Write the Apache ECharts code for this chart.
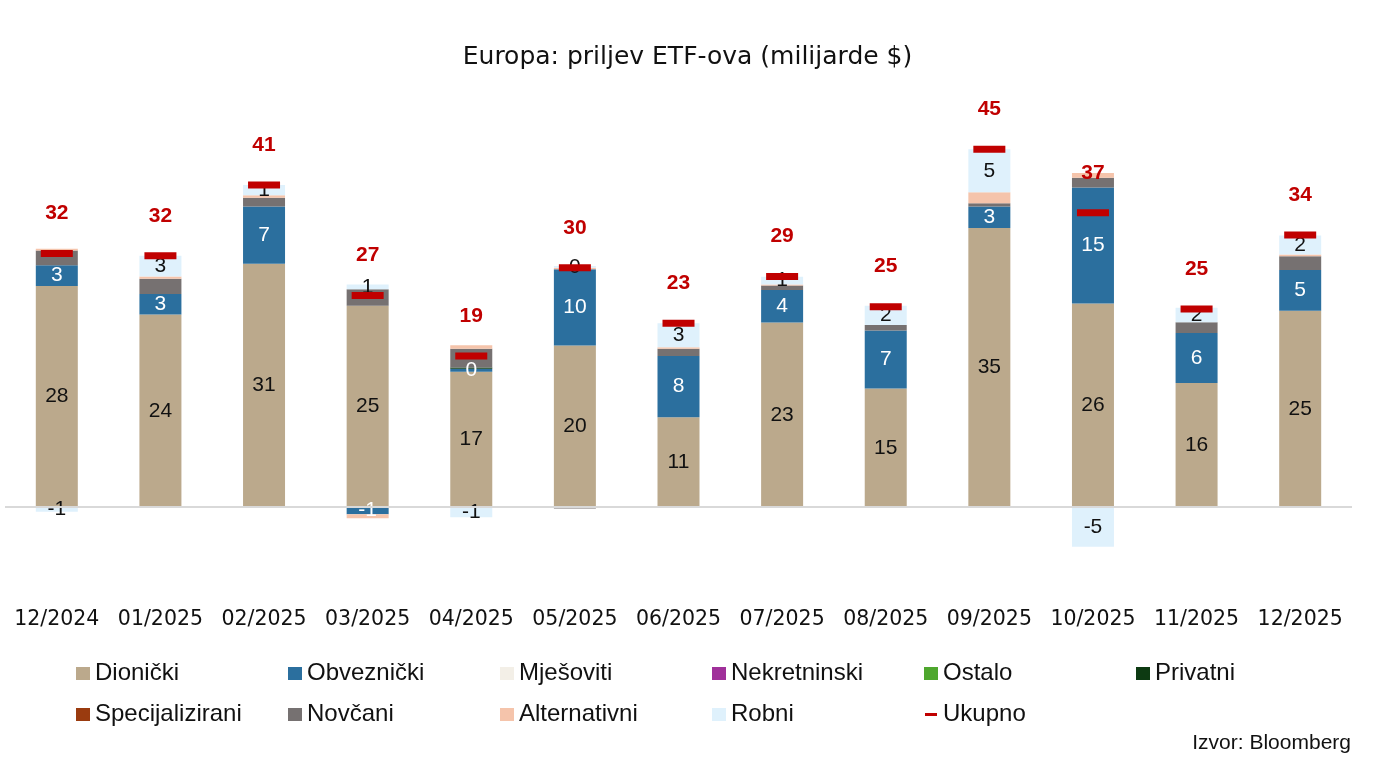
<!DOCTYPE html>
<html>
<head>
<meta charset="utf-8">
<script src="https://cdn.jsdelivr.net/npm/echarts@6/dist/echarts.min.js"></script>
<style>
html,body{margin:0;padding:0;background:#fff;}
#main{width:1375px;height:780px;}
</style>
</head>
<body>
<div id="main"></div>
<script>
const categories = ['12/2024','01/2025','02/2025','03/2025','04/2025','05/2025','06/2025','07/2025','08/2025','09/2025','10/2025','11/2025','12/2025'];
const dionicki       = [27.8, 24.2, 30.6, 25.3, 17.0, 20.3, 11.3, 23.2, 14.9, 35.1, 25.6, 15.6, 24.7];
const obveznicki     = [2.6, 2.6, 7.2, -0.9, 0.4, 9.6, 7.7, 4.1, 7.3, 2.7, 14.6, 6.3, 5.1];
const mjesoviti      = [0, 0, 0, 0, 0, 0, 0, 0, 0, 0, 0, 0, 0];
const nekretninski   = [0, 0, 0, 0, 0, 0, 0, 0, 0, 0, 0, 0, 0];
const ostalo         = [0, 0, 0, 0, 0, 0, 0, 0, 0, 0, 0, 0, 0];
const privatni       = [0, 0, 0, 0, 0.15, 0, 0, 0, 0, 0, 0, 0, 0];
const specijalizirani= [0, 0, 0, 0, 0, 0, 0, 0, 0, 0, 0, 0, 0];
const novcani        = [1.85, 1.9, 1.1, 2.1, 2.35, -0.2, 0.9, 0.55, 0.7, 0.4, 1.2, 1.35, 1.75];
const alternativni   = [0.25, 0.3, 0.3, -0.5, 0.45, 0.2, 0.2, 0.15, 0, 1.4, 0.6, -0.1, 0.2];
const robni          = [-0.6, 2.6, 1.3, 0.6, -1.3, 0.2, 3.0, 0.95, 2.4, 5.4, -5.0, 1.8, 2.4];
const ukupno         = [31.9, 31.6, 40.5, 26.6, 19.0, 30.1, 23.1, 29.0, 25.2, 45.0, 37.0, 24.9, 34.2];

const FONT = 'Liberation Sans';
const WIDE = 'DejaVu Sans';
const chart = echarts.init(document.getElementById('main'));

function roundLabel(p){ const v = Math.round(p.value); return (v === 0 ? '0' : String(v)); }

function barSeries(name, data, color, labelColor){
  const s = {
    name: name, type: 'bar', stack: 'total', data: data, barWidth: 42,
    itemStyle: { color: color },
    emphasis: { disabled: true },
    label: { show: false }
  };
  if (labelColor) {
    s.label = { show: true, position: 'inside', color: labelColor, fontFamily: FONT, fontSize: 21,
      formatter: roundLabel };
  }
  return s;
}

const series = [
  barSeries('Dionički', dionicki, '#BBA98C', '#111'),
  barSeries('Obveznički', obveznicki, '#2B6F9E', '#fff'),
  barSeries('Mješoviti', mjesoviti, '#F3EFE7'),
  barSeries('Nekretninski', nekretninski, '#A0309A'),
  barSeries('Ostalo', ostalo, '#4EA72E'),
  barSeries('Privatni', privatni, '#0D3A12'),
  barSeries('Specijalizirani', specijalizirani, '#9A3B0F'),
  barSeries('Novčani', novcani, '#767171'),
  barSeries('Alternativni', alternativni, '#F5C4AB'),
  barSeries('Robni', robni, '#DFF1FC', '#111'),
  {
    name: 'Ukupno', type: 'scatter', data: ukupno, symbol: 'rect', symbolSize: [32, 7],
    itemStyle: { color: '#C00000', opacity: 1 }, z: 10,
    emphasis: { disabled: true },
    label: { show: true, position: 'top', distance: 26, color: '#C00000', fontWeight: 'bold',
      fontFamily: FONT, fontSize: 21, formatter: roundLabel }
  }
];
series[0].markLine = {
  silent: true, symbol: 'none', label: { show: false },
  lineStyle: { color: '#D9D9D9', width: 2, type: 'solid' },
  data: [{ yAxis: 0 }]
};

const legendNames = ['Dionički','Obveznički','Mješoviti','Nekretninski','Ostalo','Privatni','Specijalizirani','Novčani','Alternativni','Robni','Ukupno'];
const dashIcon = 'path://M0,0L0.01,0L0.01,0.01Z M14,13L13.99,13L13.99,12.99Z M1,5L13,5L13,8L1,8Z';

chart.setOption({
  animation: false,
  backgroundColor: '#fff',
  title: {
    text: 'Europa: priljev ETF-ova (milijarde $)', left: 'center', top: 40,
    textStyle: { fontFamily: WIDE, fontSize: 25, fontWeight: 'normal', color: '#111' }
  },
  grid: { left: 5, right: 23, top: 109.5, bottom: 193.5, containLabel: false },
  xAxis: {
    type: 'category', data: categories,
    axisLine: { show: false, onZero: false }, axisTick: { show: false },
    axisLabel: { interval: 0, margin: 23, fontFamily: WIDE, fontSize: 20.5, color: '#111' }
  },
  yAxis: {
    type: 'value', min: -10, max: 50, interval: 10, show: false,
    splitLine: { show: false }
  },
  legend: {
    left: 76, top: 653, width: 1290, itemGap: 0, itemWidth: 14, itemHeight: 13, padding: 0,
    selectedMode: false,
    textStyle: { fontFamily: FONT, fontSize: 24, color: '#111', width: 193, lineHeight: 41 },
    data: legendNames.map(n => n === 'Ukupno' ? { name: n, icon: dashIcon } : { name: n, icon: 'rect' })
  },
  graphic: [{
    type: 'text', right: 24, top: 733,
    style: { text: 'Izvor: Bloomberg', fontFamily: FONT, fontSize: 21, fill: '#111' }
  }],
  series: series
});
</script>
</body>
</html>
